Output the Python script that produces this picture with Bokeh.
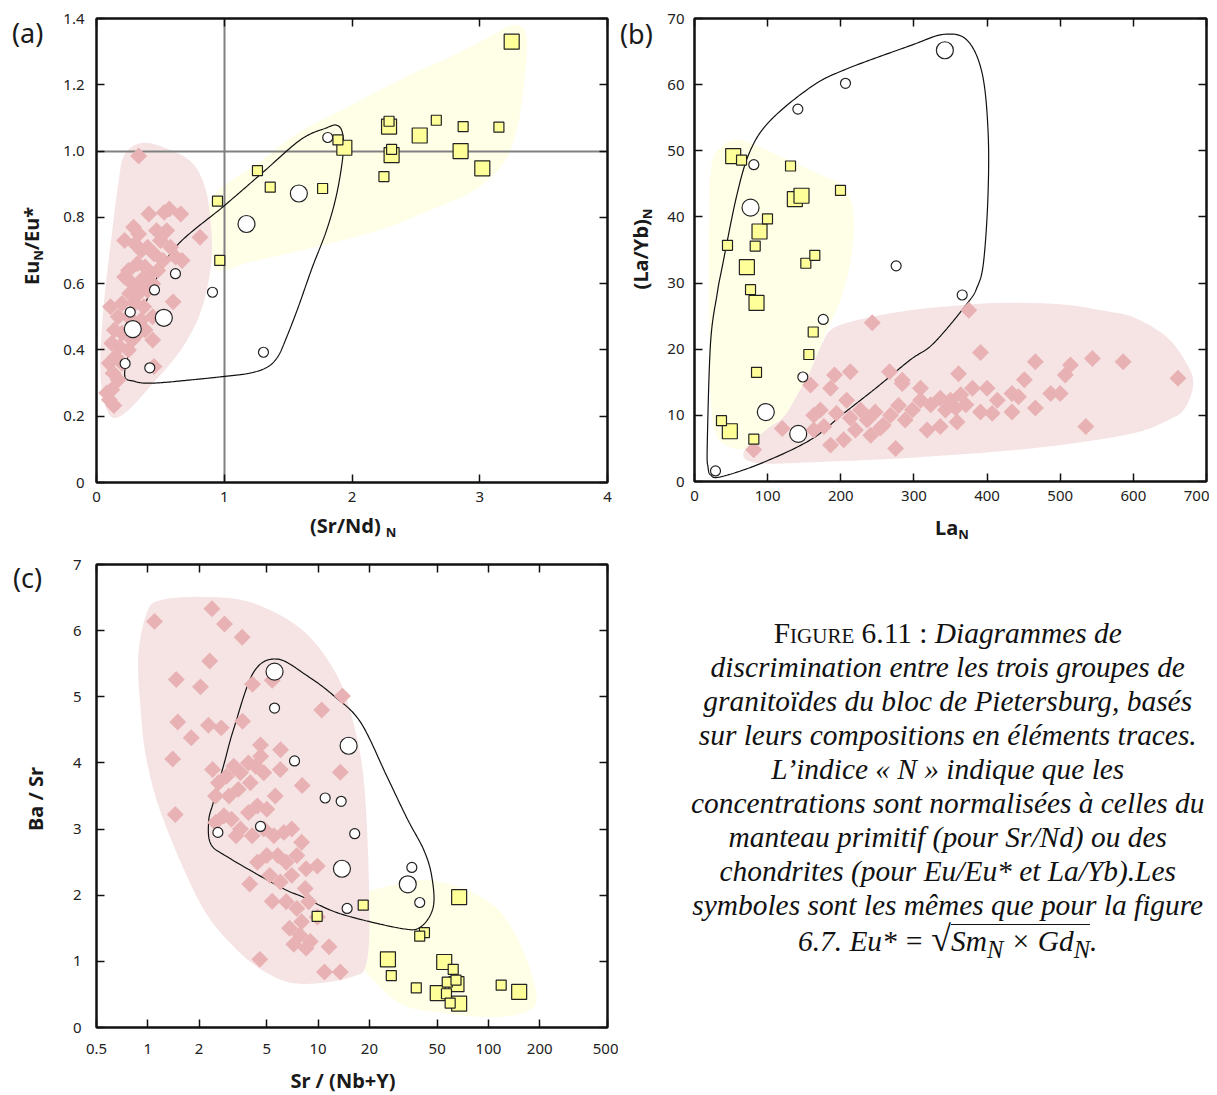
import numpy as np
from bokeh.plotting import figure
from bokeh.models import Range1d, LinearAxis, LogAxis, FixedTicker, Div, Spacer, CustomJSTickFormatter
from bokeh.layouts import column, row
from bokeh.embed import file_html
from bokeh.resources import INLINE

# ---------------- colours ----------------
PINK_REGION = "#f6e4e5"
PINK = "#e8b2b4"
YELLOW_REGION = "#ffffe8"
YELLOW = "#ffff99"
EDGE = "#222222"

# ---------------- panel (a): (Sr/Nd)N vs EuN/Eu* ----------------
a_sq_large = [(3.25, 1.33), (2.29, 1.074), (2.53, 1.047), (1.94, 1.01), (2.31, 0.988), (2.85, 1.0), (3.02, 0.948)]
a_sq_small = [(1.89, 1.034), (2.29, 1.09), (2.66, 1.093), (2.87, 1.074), (3.15, 1.072), (2.31, 1.005),
              (2.25, 0.923), (1.77, 0.887), (1.26, 0.941), (1.36, 0.891), (0.947, 0.849), (0.965, 0.670)]
a_ci_large = [(1.174, 0.78), (1.584, 0.872), (0.284, 0.463), (0.527, 0.497)]
a_ci_small = [(1.81, 1.041), (0.618, 0.63), (0.454, 0.581), (0.908, 0.574), (0.264, 0.514),
              (0.224, 0.359), (0.417, 0.346), (1.307, 0.393)]
a_diamonds = [(0.33, 0.985), (0.41, 0.81), (0.53, 0.815), (0.57, 0.825), (0.66, 0.81), (0.81, 0.74),
              (0.22, 0.73), (0.29, 0.77), (0.33, 0.75), (0.47, 0.76), (0.55, 0.76), (0.40, 0.71),
              (0.50, 0.73), (0.67, 0.67), (0.58, 0.71), (0.30, 0.72), (0.35, 0.70), (0.45, 0.69),
              (0.52, 0.67), (0.62, 0.68), (0.25, 0.64), (0.32, 0.66), (0.38, 0.65), (0.42, 0.63),
              (0.48, 0.64), (0.28, 0.60), (0.35, 0.61), (0.44, 0.60), (0.22, 0.62), (0.26, 0.57),
              (0.33, 0.57), (0.40, 0.58), (0.60, 0.545), (0.20, 0.54), (0.30, 0.54), (0.37, 0.53),
              (0.11, 0.53), (0.17, 0.50), (0.25, 0.50), (0.35, 0.49), (0.44, 0.50), (0.14, 0.46),
              (0.20, 0.45), (0.30, 0.44), (0.44, 0.43), (0.12, 0.42), (0.18, 0.41), (0.25, 0.40),
              (0.15, 0.38), (0.10, 0.36), (0.20, 0.36), (0.45, 0.35), (0.13, 0.33), (0.17, 0.31),
              (0.08, 0.27), (0.12, 0.28), (0.136, 0.232), (0.10, 0.25), (0.28, 0.43), (0.38, 0.46)]
a_ref_x = [1.0]
a_ref_y = [1.0]
# envelopes (control points of hand-drawn outlines)
a_pink_x = [0.37, 0.60, 0.76, 0.85, 0.89, 0.90, 0.82, 0.66, 0.42, 0.24, 0.12, 0.05, 0.03, 0.06, 0.12, 0.17, 0.22]
a_pink_y = [1.025, 1.0, 0.96, 0.89, 0.80, 0.67, 0.52, 0.40, 0.29, 0.215, 0.197, 0.26, 0.37, 0.55, 0.75, 0.90, 0.99]
a_yel_x = [0.91, 1.25, 1.6, 2.0, 2.4, 2.8, 3.1, 3.25, 3.35, 3.37, 3.33, 3.28, 3.18, 2.95, 2.6, 2.2, 1.6, 1.2, 0.95, 0.90]
a_yel_y = [0.86, 0.96, 1.06, 1.14, 1.22, 1.29, 1.35, 1.38, 1.365, 1.30, 1.15, 1.05, 0.96, 0.88, 0.82, 0.76, 0.70, 0.665, 0.64, 0.72]
a_env_x = [0.22, 0.30, 0.45, 0.75, 1.00, 1.20, 1.336, 1.42, 1.49, 1.58, 1.69, 1.80, 1.88, 1.93, 1.925, 1.88,
           1.80, 1.60, 1.30, 1.00, 0.63, 0.45, 0.32]
a_env_y = [0.331, 0.305, 0.300, 0.310, 0.320, 0.330, 0.348, 0.38, 0.44, 0.53, 0.65, 0.76, 0.87, 0.99, 1.055, 1.078,
           1.07, 1.035, 0.935, 0.835, 0.715, 0.60, 0.47]

# ---------------- panel (b): LaN vs (La/Yb)N ----------------
b_sq_large = [(52.9, 49.2), (137.2, 42.7), (146.3, 43.2), (88.9, 37.8), (71.6, 32.4), (84.8, 27.0), (48.3, 7.6)]
b_sq_small = [(64.3, 48.6), (131.3, 47.7), (199.6, 44.0), (99.8, 39.7), (45.1, 35.7), (83.0, 35.6),
              (152.2, 33.0), (164.5, 34.2), (76.6, 29.0), (162.3, 22.6), (156.3, 19.2), (84.8, 16.5),
              (36.9, 9.2), (81.1, 6.4)]
b_ci_large = [(76.6, 41.4), (97.5, 10.5), (141.8, 7.2), (342.3, 65.2)]
b_ci_small = [(81.1, 47.9), (141.3, 56.3), (206.4, 60.2), (275.7, 32.6), (176.0, 24.5), (148.1, 15.8),
              (28.7, 1.6), (366.0, 28.2)]
b_diamonds = [(81, 4.8), (120, 8.0), (158.6, 14.6), (163, 10.0), (186, 14.1), (191.4, 16.1), (213, 16.6),
              (243, 24.0), (266.6, 16.6), (284, 15.3), (275, 5.0), (186, 5.5), (204, 6.3), (177, 8.3),
              (163, 7.8), (194, 10.3), (213, 9.6), (227, 10.8), (236, 9.3), (247, 10.5), (258, 8.5),
              (268, 10.0), (279, 11.5), (288, 9.3), (298, 10.8), (309, 12.3), (220, 7.8), (241, 7.0),
              (254, 8.1), (172, 10.8), (208, 12.3), (318, 7.8), (336, 8.3), (359, 9.0), (323, 11.6),
              (336, 12.6), (350, 12.3), (364, 13.1), (343, 10.8), (357, 11.1), (371, 11.6), (380, 14.1),
              (391, 10.5), (400, 14.1), (407, 10.3), (414, 12.3), (434, 13.3), (443, 12.8), (434, 10.5),
              (466, 11.1), (451, 15.4), (487, 13.3), (500, 13.3), (535, 8.3), (361, 16.3), (391, 19.5),
              (375, 25.9), (466, 18.1), (514, 17.6), (507, 16.1), (544, 18.6), (586, 18.1), (661, 15.6),
              (309, 14.1), (284, 14.8)]
b_pink_x = [67, 76.6, 100, 122, 140, 158.6, 175, 190, 230, 295, 360, 418, 500, 560, 601, 646, 672, 682,
            670, 646, 600, 500, 400, 282, 180, 100, 72]
b_pink_y = [4.3, 5.8, 8.0, 9.8, 13.0, 16.8, 21.0, 23.2, 24.6, 25.9, 26.6, 27.0, 26.8, 25.8, 24.8, 21.8, 18.0, 14.8,
            11.0, 9.2, 7.3, 5.5, 4.4, 3.5, 3.0, 2.7, 3.2]
b_yel_x = [31, 62.9, 120, 170, 204, 218, 213, 198, 181, 160, 140.4, 113, 80, 53.7, 30, 21.9, 19.6, 20, 21.9]
b_yel_y = [50, 51.6, 49, 46.5, 44.5, 40, 33, 27, 22.9, 17, 11.3, 6.8, 5.3, 5.0, 7, 13.3, 28.4, 40, 46.6]
b_env_x = [35.5, 90, 158.6, 204, 250, 295, 327, 372.8, 386.5, 395, 401, 401.5, 393.3, 372.8, 340.9, 295, 204,
           158.6, 103.9, 76.6, 58.3, 37.8, 31, 21.9, 17.4, 18.5, 22]
b_env_y = [0.7, 2.7, 6.3, 10.3, 14.3, 18.4, 20.9, 26.9, 29.4, 33, 42.5, 52.6, 61.7, 66.7, 67.6, 65.9, 62.2,
           59.6, 54.6, 50.1, 43.5, 32.4, 28.4, 20.9, 5.3, 2.2, 1.0]

# ---------------- panel (c): Sr/(Nb+Y) vs Ba/Sr ----------------
c_sq_large = [(67.3, 1.97), (25.7, 1.03), (55.0, 0.99), (64.9, 0.655), (50.4, 0.52), (151.5, 0.54), (67.3, 0.36)]
c_sq_small = [(18.4, 1.85), (9.87, 1.68), (42.1, 1.435), (39.5, 1.38), (62.1, 0.88), (26.9, 0.785),
              (57.3, 0.685), (64.5, 0.715), (37.7, 0.60), (56.7, 0.51), (118.8, 0.64), (59.6, 0.37)]
c_ci_large = [(5.55, 5.38), (15.1, 4.26), (13.8, 2.40), (33.6, 2.165)]
c_ci_small = [(5.55, 4.83), (7.27, 4.03), (11.0, 3.47), (13.66, 3.42), (16.4, 2.93), (35.5, 2.42),
              (39.5, 1.89), (14.8, 1.80), (2.58, 2.95), (4.59, 3.04)]
c_diamonds = [(1.095, 6.14), (2.38, 6.33), (2.82, 6.10), (3.58, 5.90), (2.31, 5.54), (1.47, 5.26), (2.04, 5.15),
              (4.12, 5.19), (5.38, 5.25), (1.5, 4.62), (1.8, 4.38), (2.27, 4.57), (2.7, 4.53), (3.6, 4.63),
              (1.40, 4.06), (4.59, 4.27), (6.02, 4.20), (8.06, 3.66), (1.45, 3.22), (13.9, 5.01), (10.5, 4.80),
              (13.5, 3.86), (3.97, 2.17), (4.55, 1.03), (5.38, 1.91), (7.2, 1.26), (10.9, 0.84), (13.5, 0.84),
              (11.6, 1.22), (9.9, 2.44), (8.4, 2.10), (9.9, 1.67), (2.4, 3.9), (2.6, 3.7), (2.9, 3.8),
              (3.2, 3.95), (3.5, 3.85), (3.9, 4.0), (4.3, 3.95), (4.6, 4.1), (2.5, 3.5), (3.0, 3.5), (3.4, 3.6),
              (4.0, 3.7), (4.8, 3.85), (2.5, 3.1), (2.8, 3.2), (3.1, 3.15), (3.5, 3.0), (3.9, 3.25), (4.4, 3.35),
              (5.0, 3.3), (5.6, 3.5), (6.0, 3.9), (3.3, 2.9), (4.1, 2.9), (4.8, 3.0), (5.5, 2.9), (6.3, 2.95),
              (7.0, 3.0), (5.0, 2.6), (5.8, 2.6), (6.5, 2.5), (7.5, 2.6), (4.4, 2.5), (5.2, 2.3), (6.0, 2.2),
              (7.0, 2.3), (8.0, 2.8), (8.5, 2.4), (6.5, 1.9), (7.5, 1.8), (8.0, 1.6), (8.8, 1.9), (6.8, 1.5),
              (7.8, 1.4), (9.0, 1.3), (8.5, 1.2)]
c_pink_x = [1.19, 2.04, 4.0, 7.9, 12.3, 15.5, 18.5, 19.9, 19.4, 15.6, 7.9, 5.04, 3.2, 2.04, 1.24, 0.99, 0.91, 0.88, 0.99]
c_pink_y = [6.46, 6.51, 6.43, 6.03, 5.42, 4.77, 3.76, 2.12, 1.02, 0.76, 0.66, 0.82, 1.22, 1.87, 3.13, 4.01, 4.77, 5.62, 6.28]
c_yel_x = [10.3, 30.5, 52.5, 97.6, 140, 184, 184, 118, 59.6, 30.5, 17.7, 12.3, 9.87]
c_yel_y = [1.82, 2.18, 2.2, 1.92, 1.47, 0.71, 0.31, 0.16, 0.21, 0.36, 0.92, 1.22, 1.47]
c_env_x = [4.18, 5.75, 8.6, 12.3, 17.7, 25.2, 33.3, 41.8, 46.5, 47.4, 39.9, 30.5, 13.5, 8.2, 6.03, 2.93, 2.34,
           2.28, 2.43, 2.82, 3.2]
c_env_y = [5.37, 5.57, 5.32, 5.02, 4.62, 3.81, 3.16, 2.68, 2.28, 1.82, 1.52, 1.50, 1.72, 1.97, 2.12, 2.58, 2.78,
           3.13, 3.41, 4.01, 4.52]

# ---------------- ticks ----------------
a_xticks = [0, 1, 2, 3, 4]
a_yticks = [0, 0.2, 0.4, 0.6, 0.8, 1.0, 1.2, 1.4]
b_xticks = [0, 100, 200, 300, 400, 500, 600, 700]
b_yticks = [0, 10, 20, 30, 40, 50, 60, 70]
c_xticks = [0.5, 1, 2, 5, 10, 20, 50, 100, 200, 500]
c_yticks = [0, 1, 2, 3, 4, 5, 6, 7]


def smooth_closed(xs, ys, n=24, logx=False):
    xs = np.log10(np.asarray(xs, float)) if logx else np.asarray(xs, float)
    P = np.column_stack([xs, np.asarray(ys, float)])
    N = len(P)
    out = []
    t = np.linspace(0, 1, n, endpoint=False)[:, None]
    for i in range(N):
        p0, p1, p2, p3 = P[(i - 1) % N], P[i], P[(i + 1) % N], P[(i + 2) % N]
        out.append(0.5 * (2 * p1 + (-p0 + p2) * t + (2 * p0 - 5 * p1 + 4 * p2 - p3) * t ** 2
                          + (-p0 + 3 * p1 - 3 * p2 + p3) * t ** 3))
    out.append(P[:1])
    Q = np.vstack(out)
    x = 10 ** Q[:, 0] if logx else Q[:, 0]
    return list(x), list(Q[:, 1])


def style_axis(ax, ticks, code, standoff, show=True):
    ax.ticker = FixedTicker(ticks=ticks)
    ax.formatter = CustomJSTickFormatter(code=code if show else "return ''")
    ax.major_tick_in = 8
    ax.major_tick_out = 0
    ax.minor_tick_line_color = None
    ax.major_tick_line_color = "#111111"
    ax.major_tick_line_width = 1.5
    ax.axis_line_color = "#111111"
    ax.axis_line_width = 2
    ax.major_label_text_font = "Noto Sans"
    ax.major_label_text_font_size = "15px" if show else "0px"
    ax.major_label_text_color = "#222222"
    ax.major_label_standoff = standoff if show else 0
    ax.axis_label = None


def make_fig(xr, yr, xtype, fw, fh, bl, br, bt, bb, xt, yt, xcode, ycode, xs, ys):
    p = figure(x_range=Range1d(*xr), y_range=Range1d(*yr), x_axis_type=xtype,
               frame_width=fw, frame_height=fh, min_border_left=bl, min_border_right=br,
               min_border_top=bt, min_border_bottom=bb, output_backend="svg", toolbar_location=None)
    p.xgrid.visible = False
    p.ygrid.visible = False
    p.outline_line_color = "#111111"
    p.outline_line_width = 2
    style_axis(p.xaxis[0], xt, xcode, xs)
    style_axis(p.yaxis[0], yt, ycode, ys)
    top = LogAxis() if xtype == "log" else LinearAxis()
    style_axis(top, xt, "", 0, show=False)
    p.add_layout(top, "above")
    right = LinearAxis()
    style_axis(right, yt, "", 0, show=False)
    p.add_layout(right, "right")
    return p


def draw_points(p, diamonds, ci_large, ci_small, sq_large, sq_small):
    p.scatter([d[0] for d in diamonds], [d[1] for d in diamonds], marker="square", angle=np.pi / 4,
              size=12, fill_color=PINK, line_color=None)
    p.scatter([d[0] for d in ci_large], [d[1] for d in ci_large], marker="circle", size=17,
              fill_color="white", line_color=EDGE, line_width=1.2)
    p.scatter([d[0] for d in ci_small], [d[1] for d in ci_small], marker="circle", size=10,
              fill_color="white", line_color=EDGE, line_width=1.2)
    p.scatter([d[0] for d in sq_large], [d[1] for d in sq_large], marker="square", size=15,
              fill_color=YELLOW, line_color=EDGE, line_width=1.2)
    p.scatter([d[0] for d in sq_small], [d[1] for d in sq_small], marker="square", size=10,
              fill_color=YELLOW, line_color=EDGE, line_width=1.2)


# ---------- text boxes (HTML) placed beside the plots ----------
SUB = '<span style="font-size:13px;vertical-align:-4px;">N</span>'
SUB_GAP = '<span style="font-size:13px;vertical-align:-4px;margin-left:5px;">N</span>'


def tspan(x, y, inner, size, bold=False, rotate=False, anchor="left"):
    if rotate:
        tr = "translate(-50%,-50%) rotate(-90deg)"
    elif anchor == "center":
        tr = "translate(-50%,-50%)"
    else:
        tr = "translate(0,-50%)"
    weight = "bold" if bold else "normal"
    return (f'<span style="position:absolute;left:{x}px;top:{y}px;transform:{tr};white-space:nowrap;'
            f'font-family:\'Noto Sans\',sans-serif;font-size:{size}px;font-weight:{weight};'
            f'color:#1a1a1a;line-height:1;">{inner}</span>')


def text_div(w, h, items):
    html = (f'<div style="position:relative;width:{w}px;height:{h}px;overflow:visible;">'
            + "".join(items) + '</div>')
    return Div(text=html, width=w, height=h, margin=0)


# ================= panel (a) =================
pa = make_fig((0, 4), (0, 1.4), "linear", 511, 464, 45, 11, 18, 30, a_xticks, a_yticks,
              "return tick.toFixed(0);", "return tick == 0 ? '0' : tick.toFixed(1);", 9, 12)
x, y = smooth_closed(a_yel_x, a_yel_y)
pa.patch(x, y, fill_color=YELLOW_REGION, line_color=None)
x, y = smooth_closed(a_pink_x, a_pink_y)
pa.patch(x, y, fill_color=PINK_REGION, line_color=None)
pa.vspan(x=a_ref_x, line_color="#808080", line_width=2)
pa.hspan(y=a_ref_y, line_color="#808080", line_width=2)
x, y = smooth_closed(a_env_x, a_env_y)
pa.line(x, y, line_color="#111111", line_width=1.2)
draw_points(pa, a_diamonds, a_ci_large, a_ci_small, a_sq_large, a_sq_small)

div_a_left = text_div(51, 548, [tspan(12, 32, "(a)", 27),
                                tspan(33, 246, "Eu" + SUB + "/Eu*", 20, True, rotate=True)])
div_a_below = text_div(567, 36, [tspan(259, 15, "(Sr/Nd)" + SUB_GAP, 20, True)])

# ================= panel (b) =================
pb = make_fig((0, 700), (0, 70), "linear", 512, 463, 30, 3, 18, 31, b_xticks, b_yticks,
              "return tick.toFixed(0);", "return tick.toFixed(0);", 9, 10)
x, y = smooth_closed(b_yel_x, b_yel_y)
pb.patch(x, y, fill_color=YELLOW_REGION, line_color=None)
x, y = smooth_closed(b_pink_x, b_pink_y)
pb.patch(x, y, fill_color=PINK_REGION, line_color=None)
x, y = smooth_closed(b_env_x, b_env_y)
pb.line(x, y, line_color="#111111", line_width=1.2)
draw_points(pb, b_diamonds, b_ci_large, b_ci_small, b_sq_large, b_sq_small)

div_b_left = text_div(46, 548, [tspan(2, 33, "(b)", 27),
                                tspan(24, 249, "(La/Yb)" + SUB, 20, True, rotate=True)])
div_b_below = text_div(545, 36, [tspan(271, 17, "La" + SUB, 20, True)])

# ================= panel (c) =================
pc = make_fig((0.5, 500), (0, 7), "log", 511, 463, 45, 11, 16, 38, c_xticks, c_yticks,
              "return String(tick);", "return tick.toFixed(0);", 16, 15)
x, y = smooth_closed(c_yel_x, c_yel_y, logx=True)
pc.patch(x, y, fill_color=YELLOW_REGION, line_color=None)
x, y = smooth_closed(c_pink_x, c_pink_y, logx=True)
pc.patch(x, y, fill_color=PINK_REGION, line_color=None)
x, y = smooth_closed(c_env_x, c_env_y, logx=True)
pc.line(x, y, line_color="#111111", line_width=1.2)
draw_points(pc, c_diamonds, c_ci_large, c_ci_small, c_sq_large, c_sq_small)

div_c_left = text_div(51, 547, [tspan(13, 29, "(c)", 27),
                                tspan(36, 251, "Ba / Sr", 20, True, rotate=True)])
div_c_below = text_div(567, 30, [tspan(292, 16, "Sr / (Nb+Y)", 20, True, anchor="center")])

# ================= caption =================
caption = (
    '<div style="font-family:\'Liberation Serif\',\'Times New Roman\',serif;font-size:29.4px;line-height:34px;'
    'text-align:center;color:#111;white-space:nowrap;padding-top:68px;">'
    '<span style="font-variant:small-caps">Figure</span> 6.11 : <i>Diagrammes de</i><br>'
    '<i>discrimination entre les trois groupes de</i><br>'
    '<i>granitoïdes du bloc de Pietersburg, basés</i><br>'
    '<i>sur leurs compositions en éléments traces.</i><br>'
    '<i>L’indice « N » indique que les</i><br>'
    '<i>concentrations sont normalisées à celles du</i><br>'
    '<i>manteau primitif (pour Sr/Nd) ou des</i><br>'
    '<i>chondrites (pour Eu/Eu* et La/Yb).Les</i><br>'
    '<i>symboles sont les mêmes que pour la figure</i><br>'
    '<i>6.7. Eu* = </i><span style="font-size:36px">√</span>'
    '<span style="border-top:1.5px solid #111;"><i>Sm<sub>N</sub> × Gd<sub>N</sub></i></span><i>.</i>'
    '</div>'
)
div_caption = Div(text=caption, width=520, height=547, margin=0)

layout = column(
    row(div_a_left, column(pa, div_a_below), div_b_left, column(pb, div_b_below)),
    row(div_c_left, column(pc, div_c_below), Spacer(width=73, height=547, margin=0), div_caption),
)
open("out.html", "w").write(file_html(layout, INLINE))
